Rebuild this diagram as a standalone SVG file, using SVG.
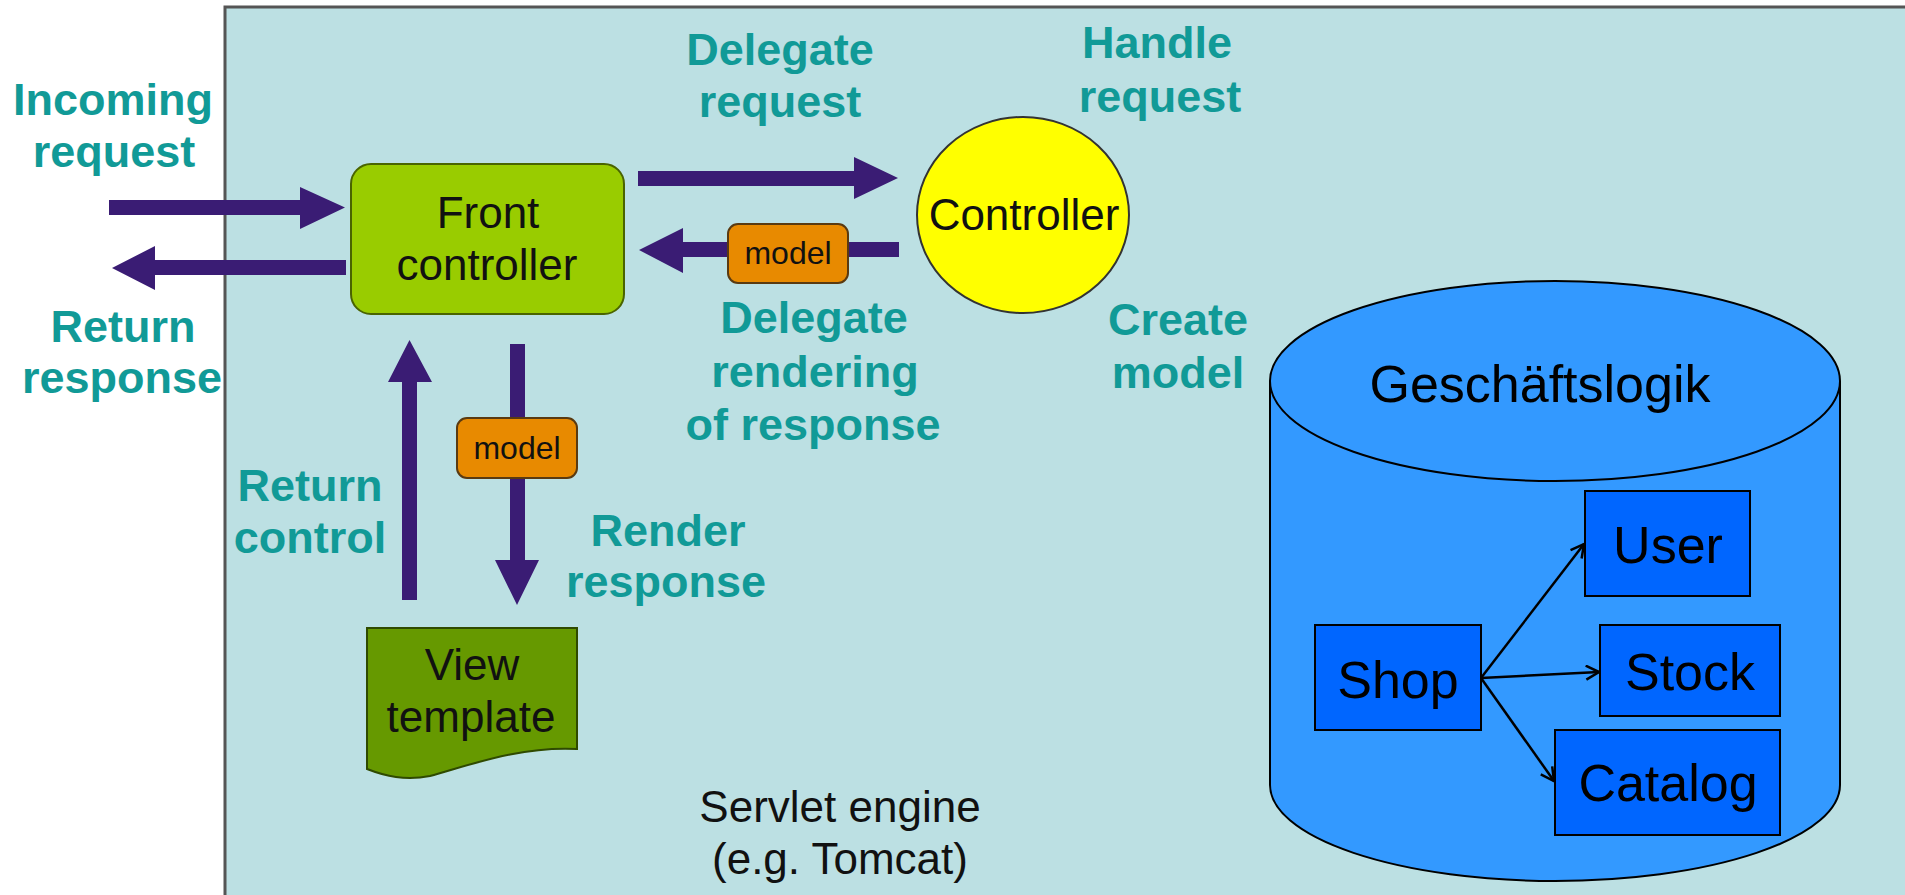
<svg xmlns="http://www.w3.org/2000/svg" width="1905" height="895" viewBox="0 0 1905 895">
<defs>
<style>
.lbl{font-family:"Liberation Sans",Arial,sans-serif;font-weight:bold;font-size:45px;fill:#119a97;text-anchor:middle}
.txt{font-family:"Liberation Sans",Arial,sans-serif;font-size:44px;fill:#111;text-anchor:middle}
.big{font-family:"Liberation Sans",Arial,sans-serif;font-size:52px;fill:#000;text-anchor:middle}
.mdl{font-family:"Liberation Sans",Arial,sans-serif;font-size:32px;fill:#111;text-anchor:middle}
.fat{fill:#3a1c74}
.mbox{fill:#e88a00;stroke:#5a3a10;stroke-width:2}
.bbox{fill:#0066ff;stroke:#000;stroke-width:2}
.thin{stroke:#000;stroke-width:2.5;fill:none}
</style>
<marker id="open" viewBox="0 0 16 16" refX="14" refY="8" markerWidth="16" markerHeight="16" markerUnits="userSpaceOnUse" orient="auto">
<path d="M1,1 L14,8 L1,15" fill="none" stroke="#000" stroke-width="2.5"/>
</marker>
</defs>
<rect x="0" y="0" width="1905" height="895" fill="#ffffff"/>
<g id="panel">
<rect x="225" y="7" width="1690" height="900" fill="#bce0e3" stroke="#555" stroke-width="3"/>
</g>
<g id="labels">
<text class="lbl" x="113" y="115">Incoming</text>
<text class="lbl" x="114" y="167">request</text>
<text class="lbl" x="123" y="342">Return</text>
<text class="lbl" x="122" y="393">response</text>
<text class="lbl" x="780" y="65">Delegate</text>
<text class="lbl" x="780" y="117">request</text>
<text class="lbl" x="1157" y="58">Handle</text>
<text class="lbl" x="1160" y="112">request</text>
<text class="lbl" x="814" y="333">Delegate</text>
<text class="lbl" x="815" y="387">rendering</text>
<text class="lbl" x="813" y="440">of response</text>
<text class="lbl" x="1178" y="335">Create</text>
<text class="lbl" x="1178" y="388">model</text>
<text class="lbl" x="310" y="501">Return</text>
<text class="lbl" x="310" y="553">control</text>
<text class="lbl" x="668" y="546">Render</text>
<text class="lbl" x="666" y="597">response</text>
<text class="txt" x="840" y="822">Servlet engine</text>
<text class="txt" x="840" y="874">(e.g. Tomcat)</text>
</g>
<g id="front-controller">
<rect x="351" y="164" width="273" height="150" rx="20" fill="#99cc00" stroke="#4a6400" stroke-width="2"/>
<text class="txt" x="488" y="228">Front</text>
<text class="txt" x="487" y="280">controller</text>
</g>
<g id="controller">
<ellipse cx="1023" cy="215" rx="106" ry="98" fill="#ffff00" stroke="#333" stroke-width="2"/>
<text class="txt" x="1024" y="230">Controller</text>
</g>
<g id="view-template">
<path d="M367,628 H577 V749 C520,746 470,765 430,776 C405,781 385,776 367,769 Z" fill="#669900" stroke="#2f4a00" stroke-width="2"/>
<text class="txt" x="472" y="680">View</text>
<text class="txt" x="471" y="732">template</text>
</g>
<g id="geschaeftslogik">
<path d="M1270,381 V785 A285,96 0 0 0 1840,785 V381" fill="#3399ff" stroke="#000" stroke-width="2"/>
<ellipse cx="1555" cy="381" rx="285" ry="100" fill="#3399ff" stroke="#000" stroke-width="2"/>
<text class="big" x="1540" y="402">Geschäftslogik</text>
</g>
<g id="connectors">
<polygon class="fat" points="109,200 300,200 300,187 345,207.5 300,229 300,215 109,215"/>
<polygon class="fat" points="346,260 155,260 155,246 112,268 155,290 155,275 346,275"/>
<polygon class="fat" points="638,171 854,171 854,157 898,178 854,199 854,186 638,186"/>
<polygon class="fat" points="899,242 683,242 683,228 639,250 683,273 683,257 899,257"/>
<polygon class="fat" points="402,600 402,382 388,382 409.5,340 432,382 417,382 417,600"/>
<polygon class="fat" points="510,344 525,344 525,560 539,560 517,605 495,560 510,560"/>
<line class="thin" x1="1481" y1="678" x2="1584" y2="544" marker-end="url(#open)"/>
<line class="thin" x1="1481" y1="678" x2="1599" y2="672" marker-end="url(#open)"/>
<line class="thin" x1="1481" y1="678" x2="1554" y2="781" marker-end="url(#open)"/>
</g>
<g id="model-1">
<rect class="mbox" x="728" y="224" width="120" height="59" rx="10"/>
<text class="mdl" x="788" y="264">model</text>
</g>
<g id="model-2">
<rect class="mbox" x="457" y="418" width="120" height="60" rx="10"/>
<text class="mdl" x="517" y="459">model</text>
</g>
<g id="shop">
<rect class="bbox" x="1315" y="625" width="166" height="105"/>
<text class="big" x="1398" y="698">Shop</text>
</g>
<g id="user">
<rect class="bbox" x="1585" y="491" width="165" height="105"/>
<text class="big" x="1668" y="563">User</text>
</g>
<g id="stock">
<rect class="bbox" x="1600" y="625" width="180" height="91"/>
<text class="big" x="1690" y="690">Stock</text>
</g>
<g id="catalog">
<rect class="bbox" x="1555" y="730" width="225" height="105"/>
<text class="big" x="1668" y="801">Catalog</text>
</g>
</svg>
